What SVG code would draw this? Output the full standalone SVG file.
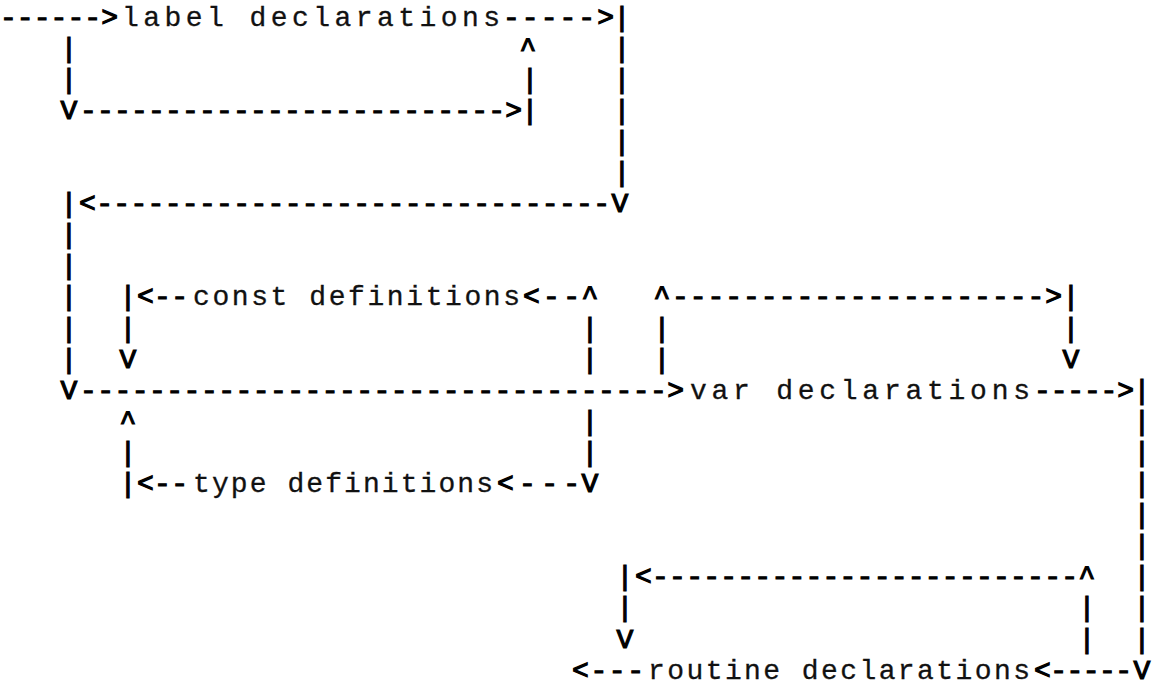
<svg xmlns="http://www.w3.org/2000/svg" width="1170" height="696" viewBox="0 0 1170 696">
  <style>
    text { font-family: "Liberation Mono", "Courier New", monospace; font-size: 28px; white-space: pre; }
    .wire { fill: #000; stroke: #000; stroke-width: 1.2; }
    .c { text-anchor: middle; }
    .label { fill: #111; stroke: #111; stroke-width: 0.3; }
  </style>
  <rect width="1170" height="696" fill="#fff"/>

  <!-- ASCII flow lines: single glyphs are centred on their column, dash runs are stretched to their span -->
  <g id="connectors" class="wire">
    <!-- row 0 -->
    <text x="0" y="25.5" textLength="118" lengthAdjust="spacing">------&gt;</text>
    <text x="503" y="25.5" textLength="111" lengthAdjust="spacing">-----&gt;</text>
    <text class="c" x="622" y="25.5">|</text>
    <!-- rows 1-5 -->
    <text class="c" x="69" y="56.6">|</text><text class="c" x="528" y="56.6">^</text><text class="c" x="622" y="56.6">|</text>
    <text class="c" x="69" y="87.7">|</text><text class="c" x="530" y="87.7">|</text><text class="c" x="622" y="87.7">|</text>
    <text class="c" x="69" y="118.8">V</text>
    <text x="80" y="118.8" textLength="442" lengthAdjust="spacing">-------------------------&gt;</text>
    <text class="c" x="530" y="118.8">|</text><text class="c" x="622" y="118.8">|</text>
    <text class="c" x="622" y="149.9">|</text>
    <text class="c" x="622" y="181.0">|</text>
    <!-- row 6 -->
    <text class="c" x="69" y="212.1">|</text>
    <text x="79" y="212.1" textLength="531" lengthAdjust="spacing">&lt;------------------------------</text>
    <text class="c" x="620" y="212.1">V</text>
    <!-- rows 7-8 -->
    <text class="c" x="69" y="243.2">|</text>
    <text class="c" x="69" y="274.3">|</text>
    <!-- row 9 -->
    <text class="c" x="69" y="305.4">|</text>
    <text class="c" x="128" y="305.4">|</text>
    <text x="137" y="305.4" textLength="51" lengthAdjust="spacing">&lt;--</text>
    <text x="523" y="305.4" textLength="57" lengthAdjust="spacing">&lt;--</text>
    <text class="c" x="590" y="305.4">^</text>
    <text class="c" x="662" y="305.4">^</text>
    <text x="672" y="305.4" textLength="390" lengthAdjust="spacing">---------------------&gt;</text>
    <text class="c" x="1071" y="305.4">|</text>
    <!-- rows 10-11 -->
    <text class="c" x="69" y="336.5">|</text><text class="c" x="128" y="336.5">|</text><text class="c" x="590" y="336.5">|</text><text class="c" x="662" y="336.5">|</text><text class="c" x="1071" y="336.5">|</text>
    <text class="c" x="69" y="367.6">|</text><text class="c" x="128" y="367.6">V</text><text class="c" x="590" y="367.6">|</text><text class="c" x="662" y="367.6">|</text><text class="c" x="1071" y="367.6">V</text>
    <!-- row 12 -->
    <text class="c" x="69" y="398.7">V</text>
    <text x="80" y="398.7" textLength="604" lengthAdjust="spacing">----------------------------------&gt;</text>
    <text x="1034" y="398.7" textLength="100" lengthAdjust="spacing">-----&gt;</text>
    <text class="c" x="1142" y="398.7">|</text>
    <!-- rows 13-14 -->
    <text class="c" x="128" y="429.8">^</text><text class="c" x="590" y="429.8">|</text><text class="c" x="1142" y="429.8">|</text>
    <text class="c" x="128" y="460.9">|</text><text class="c" x="590" y="460.9">|</text><text class="c" x="1142" y="460.9">|</text>
    <!-- row 15 -->
    <text class="c" x="128" y="492.0">|</text>
    <text x="137" y="492.0" textLength="51" lengthAdjust="spacing">&lt;--</text>
    <text x="497" y="492.0" textLength="83" lengthAdjust="spacing">&lt;---</text>
    <text class="c" x="590" y="492.0">V</text>
    <text class="c" x="1142" y="492.0">|</text>
    <!-- rows 16-17 -->
    <text class="c" x="1142" y="523.1">|</text>
    <text class="c" x="1142" y="554.2">|</text>
    <!-- row 18 -->
    <text class="c" x="625" y="585.3">|</text>
    <text x="635" y="585.3" textLength="443" lengthAdjust="spacing">&lt;-------------------------</text>
    <text class="c" x="1087" y="585.3">^</text>
    <text class="c" x="1142" y="585.3">|</text>
    <!-- rows 19-20 -->
    <text class="c" x="625" y="616.4">|</text><text class="c" x="1087" y="616.4">|</text><text class="c" x="1142" y="616.4">|</text>
    <text class="c" x="625" y="647.5">V</text><text class="c" x="1087" y="647.5">|</text><text class="c" x="1142" y="647.5">|</text>
    <!-- row 21 -->
    <text x="572" y="678.6" textLength="72" lengthAdjust="spacing">&lt;---</text>
    <text x="1034" y="678.6" textLength="98" lengthAdjust="spacing">&lt;-----</text>
    <text class="c" x="1142" y="678.6">V</text>
  </g>

  <!-- declaration sections -->
  <g id="label-declarations"><text class="label" x="122" y="25.5" textLength="378" lengthAdjust="spacing">label declarations</text></g>
  <g id="const-definitions"><text class="label" x="193" y="305.4" textLength="327" lengthAdjust="spacing">const definitions</text></g>
  <g id="type-definitions"><text class="label" x="193" y="492.0" textLength="300" lengthAdjust="spacing">type definitions</text></g>
  <g id="var-declarations"><text class="label" x="690" y="398.7" textLength="340" lengthAdjust="spacing">var declarations</text></g>
  <g id="routine-declarations"><text class="label" x="648" y="678.6" textLength="382" lengthAdjust="spacing">routine declarations</text></g>
</svg>
